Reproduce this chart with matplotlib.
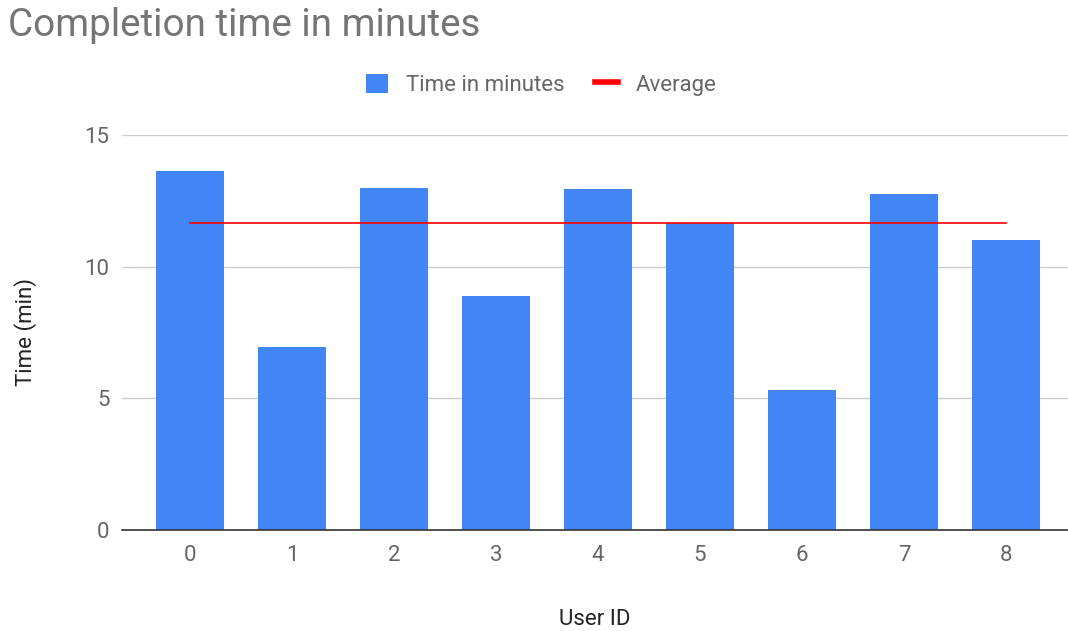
import matplotlib.pyplot as plt
import numpy as np

plt.rcParams['font.family'] = ['Roboto', 'DejaVu Sans']

# data
user_ids = [0, 1, 2, 3, 4, 5, 6, 7, 8]
time_minutes = [13.65, 6.95, 13.0, 8.9, 12.95, 11.65, 5.3, 12.75, 11.0]
average = [11.65] * len(user_ids)
y_ticks = [0, 5, 10, 15]

bar_color = '#4285F4'
text_color = '#757575'

fig = plt.figure(figsize=(10.68, 6.31), dpi=100)
ax = fig.add_axes([122 / 1068, 101 / 631, 946 / 1068, 395 / 631])

x = np.arange(len(user_ids))
bars = ax.bar(x, time_minutes, width=0.66, color=bar_color, zorder=2,
              label='Time in minutes')
line, = ax.plot(x, average, color='#FF0000', linewidth=1.2, zorder=3,
                label='Average')

ax.set_xlim(-0.667, 8.608)
ax.set_ylim(0, 15)
ax.set_xticks(x)
ax.set_xticklabels([str(u) for u in user_ids])
ax.set_yticks(y_ticks)

ax.grid(axis='y', color='#cccccc', linewidth=1, zorder=0)
ax.set_axisbelow(True)
for side in ['top', 'right', 'left']:
    ax.spines[side].set_visible(False)
ax.spines['bottom'].set_color('#333333')
ax.spines['bottom'].set_linewidth(1.2)
ax.spines['bottom'].set_zorder(4)
ax.tick_params(axis='both', length=0, labelsize=16, colors='#666666')
ax.tick_params(axis='x', pad=11)
ax.tick_params(axis='y', pad=9)

ax.set_xlabel('User ID', fontsize=16, color='#222222', labelpad=31)
ax.set_ylabel('Time (min)', fontsize=16, color='#222222', labelpad=34)

fig.text(8 / 1068, 1 - 26 / 631, 'Completion time in minutes', fontsize=27.8,
         color=text_color, va='center', ha='left')

leg = fig.legend(handles=[bars, line], loc='center',
                 bbox_to_anchor=(541 / 1068, 1 - 85 / 631), ncol=2,
                 frameon=False, fontsize=16, handlelength=1.0,
                 handleheight=0.95, columnspacing=1.4, handletextpad=0.8)
for t in leg.get_texts():
    t.set_color('#666666')
leg.legend_handles[1].set_linewidth(4)

plt.savefig('out.png', dpi=100)
